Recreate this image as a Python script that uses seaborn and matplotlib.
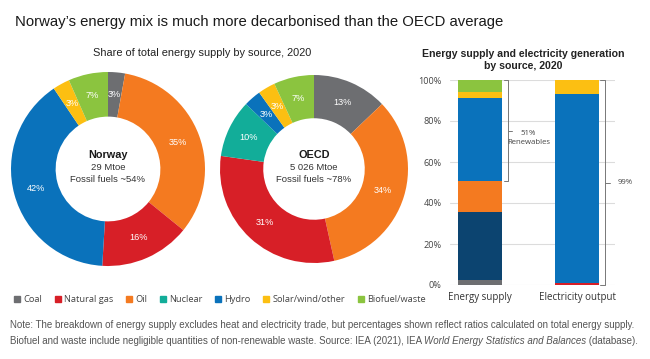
import numpy as np
import pandas as pd
import matplotlib
matplotlib.use("Agg")
import matplotlib.pyplot as plt
import seaborn as sns
from matplotlib.lines import Line2D

sns.set_theme(style="white")
plt.rcParams["font.family"] = ["Liberation Sans", "DejaVu Sans"]

# ---- data ----
sources = ["Coal", "Natural gas", "Oil", "Nuclear", "Hydro", "Solar/wind/other", "Biofuel/waste"]
colors = {"Coal": "#6d6e71", "Natural gas": "#d71f27", "Oil": "#f47a20", "Nuclear": "#12ad99",
          "Hydro": "#0a72bb", "Solar/wind/other": "#fcbf12", "Biofuel/waste": "#8bc43f"}

# donut wedges, clockwise from 12 o'clock
pie_order = ["Coal", "Oil", "Natural gas", "Nuclear", "Hydro", "Solar/wind/other", "Biofuel/waste"]
norway_share = [3, 35, 16, 0, 42, 3, 7]
oecd_share = [13, 34, 31, 10, 3, 3, 7]

# stacked bars (%), bottom to top
bar_cats = ["Energy supply", "Electricity output"]
bar_layers = ["coal", "gas_red", "oil_navy", "gas_orange", "hydro", "solar", "bio"]
layer_colors = ["#6d6e71", "#d71f27", "#0c4470", "#f47a20", "#0a72bb", "#fcbf12", "#8bc43f"]
supply_vals = [2.5, 0, 33, 15, 40.5, 3, 6]
elec_vals = [0, 0.8, 0, 0, 92.4, 6.8, 0]

W, H = 650, 359
fig = plt.figure(figsize=(W / 100, H / 100), dpi=100)


def box(x0, y0, x1, y1):
    return [x0 / W, 1 - y1 / H, (x1 - x0) / W, (y1 - y0) / H]


def px(x, y):
    return x / W, 1 - y / H


# titles
fig.text(*px(15, 22), "Norway\u2019s energy mix is much more decarbonised than the OECD average",
         fontsize=10.75, color="#1a1a1a", va="center", ha="left")
fig.text(*px(202, 53), "Share of total energy supply by source, 2020", fontsize=7.9,
         color="#222222", va="center", ha="center")
fig.text(*px(523, 60), "Energy supply and electricity generation\nby source, 2020", fontsize=7.55,
         color="#222222", va="center", ha="center", fontweight="bold", linespacing=1.15)


def donut(cx, cy, r, vals, name, lines):
    ax = fig.add_axes(box(cx - 100, cy - 100, cx + 100, cy + 100))
    labels = iter([f"{v}%" for v in vals if v > 0])
    keep = [(v, colors[s]) for v, s in zip(vals, pie_order) if v > 0]
    ax.pie([k[0] for k in keep], colors=[k[1] for k in keep], startangle=90, counterclock=False,
           radius=r, wedgeprops=dict(width=r * 0.46, edgecolor="none"),
           autopct=lambda p: next(labels), pctdistance=(1 + 0.54) / 2,
           textprops=dict(color="white", fontsize=6.6))
    ax.set_xlim(-1, 1)
    ax.set_ylim(-1, 1)
    ax.set_aspect("equal")
    ax.axis("off")
    ax.text(0, 0.14, name, ha="center", va="center", fontsize=7.8, fontweight="bold", color="#1a1a1a")
    ax.text(0, 0.01, lines[0], ha="center", va="center", fontsize=6.8, color="#333333")
    ax.text(0, -0.10, lines[1], ha="center", va="center", fontsize=6.8, color="#333333")
    return ax


donut(108, 169, 0.97, norway_share, "Norway", ["29 Mtoe", "Fossil fuels ~54%"])
donut(314, 169, 0.94, oecd_share, "OECD", ["5 026 Mtoe", "Fossil fuels ~78%"])

# legend
handles = [Line2D([], [], marker="s", linestyle="none", markersize=4.2, color=colors[s]) for s in sources]
fig.legend(handles, sources, loc="center left", bbox_to_anchor=px(5, 300), ncol=7, frameon=False,
           handletextpad=0.3, columnspacing=1.25, handlelength=0.8,
           labelcolor="#444444", prop=dict(family="Open Sans", size=6.7))

# stacked bars
axb = fig.add_axes(box(450, 80, 615, 285))
stack = pd.DataFrame({"layer": bar_layers, "Energy supply": supply_vals, "Electricity output": elec_vals})
tops = stack[bar_cats].cumsum()
for i in reversed(range(len(bar_layers))):
    sns.barplot(x=bar_cats, y=tops.iloc[i].values, color=layer_colors[i], width=0.46,
                saturation=1, linewidth=0, edgecolor="none", ax=axb, zorder=3)
axb.set_xlim(-0.31, 1.39)
axb.set_ylim(0, 100)
axb.set_yticks(range(0, 101, 20))
axb.set_yticklabels([f"{t}%" for t in range(0, 101, 20)], fontsize=6.6, color="#444444",
                    family="Open Sans")
axb.set_xticklabels(bar_cats, fontsize=7, color="#333333", family="Open Sans")
axb.tick_params(axis="both", length=0, pad=6)
axb.tick_params(axis="x", pad=5)
axb.yaxis.grid(True, color="#dcdcdc", linewidth=0.8)
axb.set_axisbelow(True)
sns.despine(ax=axb, left=True, bottom=True)
axb.set_facecolor("none")

# brackets
br = dict(color="#777777", linewidth=0.7, clip_on=False)
xb = 0.29
axb.plot([xb - 0.04, xb, xb, xb - 0.04], [100, 100, 50.5, 50.5], **br)
axb.plot([xb, xb + 0.04], [75, 75], **br)
axb.text(0.50, 75.5, "51%\nRenewables", ha="center", va="top", fontsize=5.6, color="#444444",
         family="Open Sans", linespacing=1.3)
xe = 1.29
axb.plot([xe - 0.05, xe, xe, xe - 0.05], [100, 100, 0, 0], **br)
axb.plot([xe, xe + 0.05], [50, 50], **br)
axb.text(1.42, 50, "99%", ha="left", va="center", fontsize=5.6, color="#444444",
         family="Open Sans", clip_on=False)

# note
fs_note = 7.0
note_kw = dict(fontsize=fs_note, color="#555555", va="center", ha="left")
fig.text(*px(10, 325), "Note: The breakdown of energy supply excludes heat and electricity trade, "
         "but percentages shown reflect ratios calculated on total energy supply.", **note_kw)
t1 = fig.text(*px(10, 341), "Biofuel and waste include negligible quantities of non-renewable waste. "
              "Source: IEA (2021), IEA ", **note_kw)
t2 = axb.annotate("World Energy Statistics and Balances", xy=(1, 0), xycoords=t1, va="bottom",
                  ha="left", fontsize=fs_note, color="#555555", style="italic", annotation_clip=False)
axb.annotate(" (database).", xy=(1, 0), xycoords=t2, va="bottom", ha="left", fontsize=fs_note,
             color="#555555", annotation_clip=False)

fig.savefig("out.png", dpi=100)
